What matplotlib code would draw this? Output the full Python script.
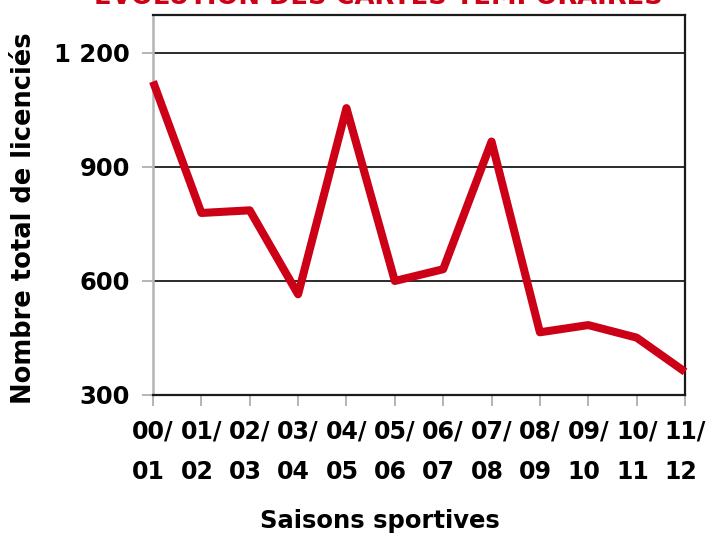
import matplotlib
matplotlib.use("Agg")
from matplotlib import pyplot as plt

Saisons = ["00/\n01", "01/\n02", "02/\n03", "03/\n04", "04/\n05", "05/\n06",
           "06/\n07", "07/\n08", "08/\n09", "09/\n10", "10/\n11", "11/\n12"]
Licencies = [1125, 779, 786, 565, 1055, 600, 631, 967, 465, 484, 451, 361]
YTicks = [300, 600, 900, 1200]
YTickLabels = ["300", "600", "900", "1 200"]

Red = "#cc0016"
Grey = "#b4b4b4"

plt.rcParams["font.family"] = "DejaVu Sans"
plt.rcParams["font.weight"] = "bold"

fig = plt.figure(figsize=(7.08, 5.36), dpi=100)
ax = fig.add_axes([153 / 708, 1 - 395 / 536, 532 / 708, 380 / 536])

x = list(range(len(Saisons)))
ax.plot(x, Licencies, color=Red, linewidth=5.8, solid_joinstyle="round",
        solid_capstyle="butt", clip_on=False, zorder=3)

ax.set_xlim(0, len(Saisons) - 1)
ax.set_ylim(300, 1300)
ax.set_yticks(YTicks)
ax.set_yticklabels(YTickLabels, fontsize=17.5, fontweight="bold")
ax.set_xticks(x)
ax.set_xticklabels(Saisons, fontsize=17, fontweight="bold",
                   linespacing=1.85, multialignment="left")

ax.grid(axis="y", color="#1a1a1a", linewidth=1.3)
ax.tick_params(axis="both", direction="out", length=7.7, width=1.4, color=Grey)
ax.tick_params(axis="y", pad=9)
ax.tick_params(axis="x", pad=10)

for side in ["top", "right", "bottom"]:
    ax.spines[side].set_color("#1a1a1a")
    ax.spines[side].set_linewidth(1.6)
ax.spines["left"].set_color(Grey)
ax.spines["left"].set_linewidth(1.8)

fig.text(378 / 708, 1 - 4 / 536, "EVOLUTION DES CARTES TEMPORAIRES",
         color=Red, fontsize=18.5, fontweight="bold", ha="center", va="baseline")
fig.text(24 / 708, 1 - 218 / 536, "Nombre total de licenciés", rotation=90,
         fontsize=18.5, fontweight="bold", ha="center", va="center")
fig.text(380 / 708, 1 - 528 / 536, "Saisons sportives",
         fontsize=17.5, fontweight="bold", ha="center", va="baseline")

fig.savefig("out.png", dpi=100)
